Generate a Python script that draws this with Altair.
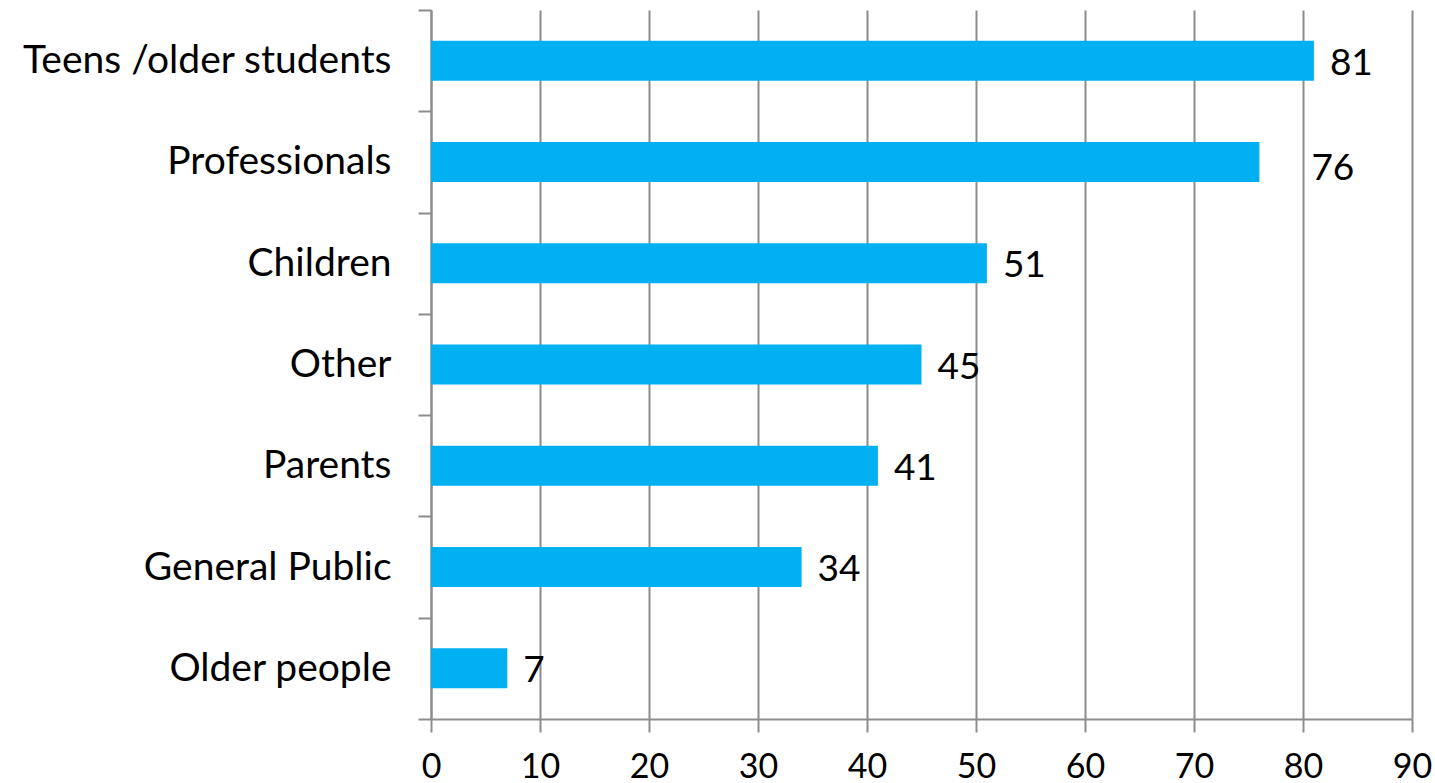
import altair as alt
import pandas as pd

categories = ["Teens /older students", "Professionals", "Children", "Other", "Parents", "General Public", "Older people"]
values = [81, 76, 51, 45, 41, 34, 7]

df = pd.DataFrame({"cat": categories, "val": values})

FONT = "Lato"
GRAY = "#8c8c8c"

y = alt.Y("cat:N", sort=categories, title=None,
          scale=alt.Scale(paddingInner=0, paddingOuter=0),
          axis=alt.Axis(labelFont=FONT, labelFontSize=39, labelColor="#000000",
                        labelPadding=27, tickBand="extent", tickSize=13,
                        tickColor=GRAY, tickWidth=2, domainColor=GRAY, domainWidth=2,
                        grid=False, labelLimit=500,
                        labelExpr="datum.value == 'Older people' ? 'Older people\u00a0\u00a0' : datum.label"))

x = alt.X("val:Q", title=None,
          scale=alt.Scale(domain=[0, 90], nice=False),
          axis=alt.Axis(values=list(range(0, 100, 10)), labelFont=FONT, labelFontSize=34,
                        labelColor="#000000", labelPadding=18, labelFlush=False,
                        tickSize=13, tickColor=GRAY,
                        tickWidth=2, domainColor=GRAY, domainWidth=2, grid=True,
                        gridColor=GRAY, gridWidth=2, gridOpacity=1))

bars = alt.Chart(df).mark_bar(color="#00B0F0", size=40).encode(x=x, y=y)
enc = dict(x=alt.X("val:Q"), y=alt.Y("cat:N", sort=categories), text="val:Q")
labels = alt.Chart(df).transform_filter("datum.cat != 'Professionals'").mark_text(
    align="left", baseline="middle", dx=16, dy=3,
    font=FONT, fontSize=37, color="#000000").encode(**enc)
labels_moved = alt.Chart(df).transform_filter("datum.cat == 'Professionals'").mark_text(
    align="left", baseline="middle", dx=52, dy=7,
    font=FONT, fontSize=37, color="#000000").encode(**enc)

chart = alt.layer(bars, labels, labels_moved).properties(
    width=981, height=709,
    padding={"left": 431, "top": 10, "right": 23, "bottom": 64},
    autosize=alt.AutoSizeParams(type="none"),
    background="white",
).configure_view(stroke=None)

chart.save("out.html", embed_options={"renderer": "svg", "actions": False})
